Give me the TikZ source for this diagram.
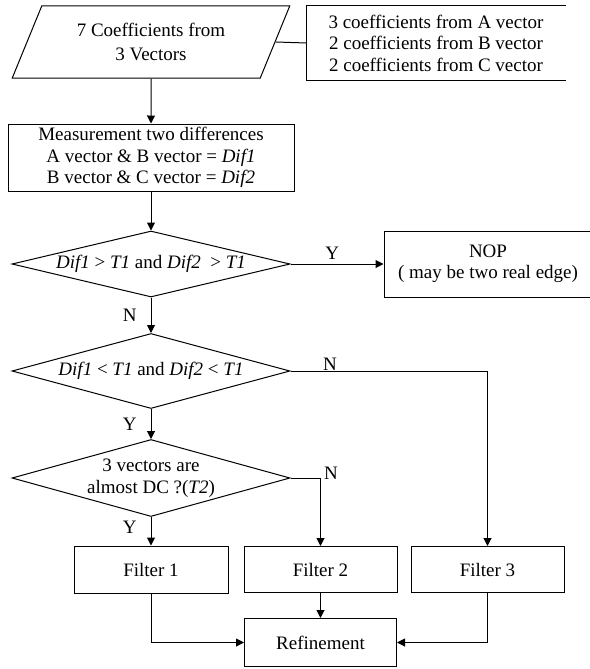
\documentclass[tikz,border=0pt]{standalone}
\usepackage{fontspec}
\setmainfont{Liberation Serif}
\usetikzlibrary{shapes.geometric,arrows.meta}

\begin{document}
\begin{tikzpicture}[x=1pt, y=-1pt, >={Triangle[length=8pt,width=8pt]}, line width=1pt,
    font=\fontsize{19}{21.5}\selectfont,
    box/.style={draw, align=center, inner sep=0pt},
    io/.style={draw, trapezium, trapezium left angle=62, trapezium right angle=118, trapezium stretches=true, align=center, inner sep=0pt},
    dec/.style={draw, diamond, align=center, inner xsep=-6pt, inner ysep=0pt, minimum width=278pt},
    lbl/.style={inner sep=2pt}]
    \useasboundingbox (0,0) rectangle (589,669);

    \node (in) [io, minimum width=278pt, minimum height=72pt] at (151,42) {7 Coefficients from\\[2.5pt]3 Vectors};
    \node (note) [right of=in, node distance=285pt, yshift=-1pt, minimum width=258pt, minimum height=74pt, align=center] {3 coefficients from A vector\\2 coefficients from B vector\\2 coefficients from C vector};
    \node (meas) [box, below of=in, node distance=115.5pt, minimum width=286pt, minimum height=67pt] {Measurement two differences\\A vector \& B vector = \textit{Dif1}\\B vector \& C vector = \textit{Dif2}};

    % the three tests
    \node (dec1) [dec, below of=meas, node distance=106.5pt, aspect=4.2, minimum height=66pt] {\textit{Dif1} > \textit{T1} and \textit{Dif2} \ > \textit{T1}};
    \node (nop) [box, right of=dec1, node distance=337pt, minimum width=208pt, minimum height=66pt] {NOP\\( may be two real edge)};
    \node (dec2) [dec, below of=dec1, node distance=107pt, aspect=3.7, minimum height=75pt] {\textit{Dif1} < \textit{T1} and \textit{Dif2} < \textit{T1}};
    \node (dec3) [dec, below of=dec2, node distance=107pt, aspect=3.6, minimum height=77pt] {3 vectors are\\almost DC ?(\textit{T2})};

    % filters
    \node (f1) [box, below of=dec3, node distance=91.5pt, minimum width=154pt, minimum height=47pt] {Filter 1};
    \node (f2) [box, right of=f1, node distance=169.5pt, minimum width=153pt, minimum height=46pt] {Filter 2};
    \node (f3) [box, right of=f2, node distance=167pt, minimum width=153pt, minimum height=46pt] {Filter 3};
    \node (ref) [box, below of=f2, node distance=73pt, minimum width=152pt, minimum height=48pt] {Refinement};

    \draw[->] (in) -- (meas);
    \draw (in.east) -- (note.west);
    \draw (note.north east) -- (note.north west) -- (note.south west) -- (note.south east);
    \draw[->] (meas) -- (dec1);
    \draw[->] (dec1) -- node[lbl, above=2pt, pos=0.45] {Y} (nop);
    \draw[->] (dec1) -- node[lbl, left=12pt] {N} (dec2);
    \draw[->] (dec2) -- node[lbl, left=12pt] {Y} (dec3);
    \draw[->] (dec2.east) -| node[pos=0.1, above, inner sep=0.5pt] {N} (f3);
    \draw[->] (dec3.east) -| node[lbl, right=1pt, yshift=5pt] {N} (f2);
    \draw[->] (dec3) -- node[lbl, left=12pt, pos=0.35] {Y} (f1);
    \draw[->] (f1) |- (ref);
    \draw[->] (f2) -- (ref);
    \draw[->] (f3) |- (ref);
\end{tikzpicture}
\end{document}
